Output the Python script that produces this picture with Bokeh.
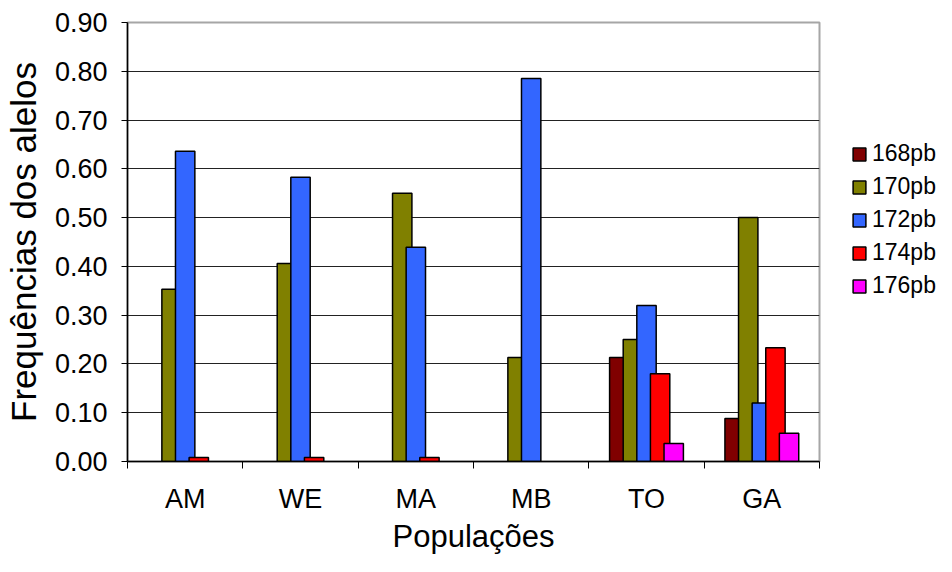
from bokeh.plotting import figure
from bokeh.models import Range1d, FixedTicker, NumeralTickFormatter, Legend, LegendItem
from bokeh.layouts import row
from bokeh.embed import file_html
from bokeh.resources import INLINE

populations = ["AM", "WE", "MA", "MB", "TO", "GA"]
alleles = ["168pb", "170pb", "172pb", "174pb", "176pb"]
freq_168 = [0.0, 0.0, 0.0, 0.0, 0.213, 0.088]
freq_170 = [0.353, 0.406, 0.550, 0.213, 0.250, 0.500]
freq_172 = [0.636, 0.583, 0.439, 0.785, 0.320, 0.120]
freq_174 = [0.008, 0.008, 0.008, 0.0, 0.180, 0.233]
freq_176 = [0.0, 0.0, 0.0, 0.0, 0.037, 0.058]
y_ticks = [0.0, 0.1, 0.2, 0.3, 0.4, 0.5, 0.6, 0.7, 0.8, 0.9]
colors = ["#800000", "#808000", "#3366FF", "#FF0000", "#FF00FF"]

series = [freq_168, freq_170, freq_172, freq_174, freq_176]

FONT = "Liberation Sans"
H = 556

p = figure(width=824, height=H, output_backend="svg", toolbar_location=None,
           x_range=Range1d(0, len(populations)), y_range=Range1d(0, y_ticks[-1]),
           min_border_left=119, min_border_right=5, min_border_top=22, min_border_bottom=95)

p.outline_line_color = "#A6A6A6"
p.outline_line_width = 2
p.background_fill_color = "white"
p.border_fill_color = "white"

# legend panel (separate figure so the legend can sit right of the plot area)
lg = figure(width=112, height=H, output_backend="svg", toolbar_location=None,
            x_axis_location=None, y_axis_location=None,
            x_range=p.x_range, y_range=p.y_range,
            min_border_left=0, min_border_right=0, min_border_top=0, min_border_bottom=0)
lg.outline_line_color = None
lg.grid.grid_line_color = None
lg.background_fill_color = "white"
lg.border_fill_color = "white"

centers = [i + 0.5 for i in range(len(populations))]
step = 0.118
bw = 0.168
items = []
for k, (name, vals, col) in enumerate(zip(alleles, series, colors)):
    xs = [c + (k - 2) * step for c, v in zip(centers, vals) if v > 0]
    ys = [v for v in vals if v > 0]
    p.vbar(x=xs, top=ys, width=bw, bottom=0, fill_color=col, line_color="black", line_width=1.5)
    r = lg.vbar(x=xs, top=ys, width=bw, bottom=0, fill_color=col, line_color="black",
                line_width=1.5, visible=False)
    items.append(LegendItem(label=name, renderers=[r]))

legend = Legend(items=items, location=(27, 162), glyph_width=16, glyph_height=16,
                label_height=24, spacing=6, padding=0, margin=0, label_standoff=5,
                label_text_font=FONT, label_text_font_size="23px", label_text_color="black",
                border_line_color=None, background_fill_alpha=0,
                inactive_fill_alpha=0, click_policy="none")
lg.add_layout(legend)

# x axis
xa = p.xaxis[0]
xa.ticker = FixedTicker(ticks=centers, minor_ticks=list(range(len(populations) + 1)))
xa.major_label_overrides = {c: name for c, name in zip(centers, populations)}
xa.major_tick_line_color = None
xa.minor_tick_line_color = "black"
xa.minor_tick_in = 0
xa.minor_tick_out = 7
xa.axis_line_color = "black"
xa.axis_line_width = 1.5
xa.major_label_text_font = FONT
xa.major_label_text_font_size = "27px"
xa.major_label_text_color = "black"
xa.major_label_standoff = 15
xa.axis_label = "Populações"
xa.axis_label_text_font = FONT
xa.axis_label_text_font_size = "31px"
xa.axis_label_text_font_style = "normal"
xa.axis_label_text_color = "black"
xa.axis_label_standoff = 2

# y axis
ya = p.yaxis[0]
ya.ticker = FixedTicker(ticks=y_ticks)
ya.formatter = NumeralTickFormatter(format="0.00")
ya.major_tick_line_color = "black"
ya.major_tick_in = 0
ya.major_tick_out = 6
ya.minor_tick_line_color = None
ya.axis_line_color = "black"
ya.axis_line_width = 1.5
ya.major_label_text_font = FONT
ya.major_label_text_font_size = "27px"
ya.major_label_text_color = "black"
ya.major_label_standoff = 14
ya.axis_label = "Frequências dos alelos"
ya.axis_label_text_font = FONT
ya.axis_label_text_font_size = "35px"
ya.axis_label_text_font_style = "normal"
ya.axis_label_text_color = "black"
ya.axis_label_standoff = 9

p.xgrid.grid_line_color = None
p.ygrid.ticker = FixedTicker(ticks=y_ticks[1:-1])
p.ygrid.grid_line_color = "#222222"
p.ygrid.grid_line_width = 1.2

layout = row(p, lg)
open("out.html", "w").write(file_html(layout, INLINE))
